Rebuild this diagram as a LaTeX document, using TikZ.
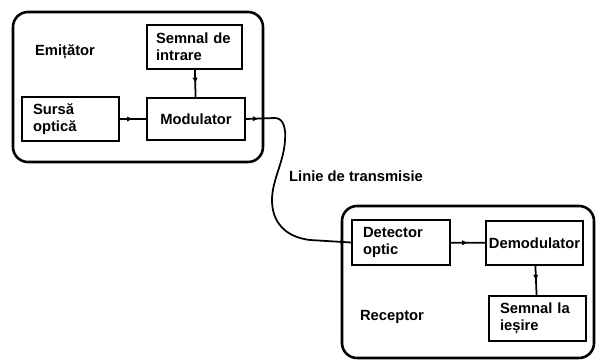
\documentclass[tikz,border=0pt]{standalone}
\usepackage{fontspec}
\setmainfont{Liberation Sans}
\usetikzlibrary{arrows.meta,decorations.markings}
\tikzset{
  bloc/.style={draw,line width=1.5pt,minimum height=13.4mm,inner xsep=3.3mm,
    align=left,font=\bfseries\fontsize{12.6}{14.5}\selectfont},
  cadru/.style={line width=2.2pt,rounded corners=4.5mm},
  eticheta/.style={font=\bfseries\fontsize{12.6}{14.5}\selectfont},
  sagmij/.style={line width=1.5pt,postaction={decorate},
    decoration={markings,mark=at position 0.5 with {\arrow{Latex[length=5pt,width=4.5pt]}}}},
  cablu/.style={line width=1.5pt,postaction={decorate},
    decoration={markings,
      mark=at position 11pt with {\arrow{Latex[length=5pt,width=4.5pt]}},
      mark=at position -4pt with {\arrow{Latex[length=5pt,width=4.5pt]}}}}
}
\begin{document}
\begin{tikzpicture}[x=0.3mm,y=0.3mm]
\useasboundingbox (0,0) rectangle (596,362);

\draw[cadru] (13,200) rectangle (263,350);
\node[eticheta] (emit) at (65,310) {Emițător};
\node[bloc,text width=23.1mm,inner xsep=2.7mm] (intrare) at (194.5,315) {Semnal de\\intrare};
\node[bloc,text width=22.8mm,align=center,minimum height=12.8mm] (mod) at (196,243) {Modulator};
\node[bloc,text width=22.5mm] (sursa) at (70.5,243) {Sursă\\optică};

\draw[sagmij] (sursa) -- (mod);
\draw[sagmij] (intrare) -- (mod);

\draw[cadru] (342,4) rectangle (594,156);
\node[eticheta] (rec) at (392,45) {Receptor};
\node[bloc,text width=22.8mm] (det) at (401,119.5) {Detector\\optic};
\node[bloc,text width=28.2mm,inner xsep=0.45mm,align=center] (demod) at (534.5,119) {Demodulator};
\node[bloc,text width=22.5mm] (iesire) at (537.5,43.5) {Semnal la\\ieșire};

\draw[sagmij] (det) -- (demod);
\draw[sagmij] (demod) -- (iesire);

\draw[cablu] (mod.east) -- (275,244)
  .. controls (284,244) and (286,232) .. (285,222)
  .. controls (284,200) and (272,182) .. (272,162)
  .. controls (272,140) and (285,125) .. (310,122)
  -- (det.west);
\node[eticheta] (linie) at (356,186) {Linie de transmisie};
\end{tikzpicture}
\end{document}
